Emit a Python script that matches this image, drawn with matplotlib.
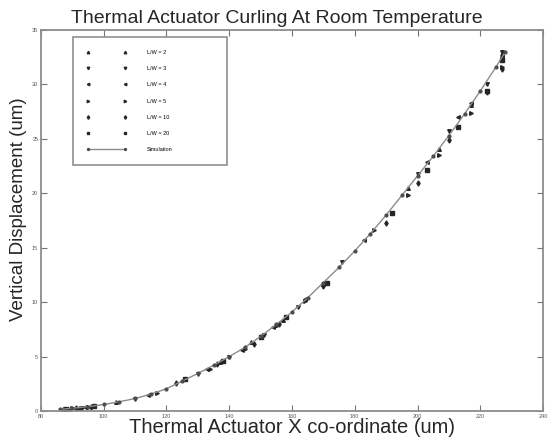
# Thermal actuator curling: measured tip profiles for several L/W ratios
# against the simulated curve (MATLAB-style figure look).

import matplotlib as mpl
import matplotlib.pyplot as plt

mpl.rcParams.update({
    "font.family": ["Liberation Sans", "DejaVu Sans"],
    "xtick.direction": "in",
    "ytick.direction": "in",
    "xtick.top": True,
    "ytick.right": True,
})

# --- Data ---
sim_x = [86, 90, 95, 100, 105, 110, 115, 120, 125, 130, 135, 140, 145, 150,
         155, 160, 165, 170, 175, 180, 185, 190, 195, 200, 205, 210, 215, 220,
         225, 228]
sim_y = [0.15, 0.25, 0.4, 0.6, 0.85, 1.15, 1.55, 2.05, 2.75, 3.45, 4.2, 5.0,
         5.85, 6.85, 7.95, 9.1, 10.4, 11.8, 13.2, 14.7, 16.3, 18.0, 19.8, 21.6,
         23.4, 25.3, 27.3, 29.4, 31.6, 33.0]

lw2_x = [87, 92, 104, 126, 137, 147, 157, 170, 197, 207, 217, 227]
lw2_y = [0.2, 0.3, 0.8, 2.9, 4.5, 6.3, 8.4, 11.7, 20.5, 24.1, 28.1, 32.8]

lw3_x = [88, 93, 110, 130, 140, 151, 162, 176, 200, 210, 222, 227]
lw3_y = [0.2, 0.3, 1.1, 3.4, 5.0, 7.0, 9.6, 13.7, 21.8, 25.7, 30.0, 33.0]

lw4_x = [89, 94, 114, 133, 144, 154, 164, 183, 203, 213, 217, 227]
lw4_y = [0.2, 0.35, 1.5, 3.9, 5.6, 7.7, 10.3, 15.7, 22.9, 27.0, 28.3, 32.5]

lw5_x = [90, 95, 117, 134, 145, 155, 164, 186, 197, 207, 217, 227]
lw5_y = [0.25, 0.4, 1.7, 3.9, 5.7, 7.8, 10.1, 16.6, 19.8, 23.5, 27.4, 31.6]

lw10_x = [91, 96, 123, 136, 148, 156, 170, 190, 200, 210, 222, 227]
lw10_y = [0.25, 0.4, 2.6, 4.3, 6.2, 8.0, 11.5, 17.3, 20.9, 24.9, 29.3, 31.4]

lw20_x = [88, 97, 126, 138, 150, 158, 171, 192, 203, 213, 222, 227]
lw20_y = [0.2, 0.45, 2.9, 4.6, 6.8, 8.6, 11.8, 18.2, 22.1, 26.1, 29.4, 32.2]

series = [
    ("L/W = 2", lw2_x, lw2_y, "^"),
    ("L/W = 3", lw3_x, lw3_y, "v"),
    ("L/W = 4", lw4_x, lw4_y, "<"),
    ("L/W = 5", lw5_x, lw5_y, ">"),
    ("L/W = 10", lw10_x, lw10_y, "d"),
    ("L/W = 20", lw20_x, lw20_y, "s"),
]

# --- Plot ---
fig = plt.figure(figsize=(5.51, 4.43), dpi=100)
ax = fig.add_axes([0.0744, 0.0722, 0.9111, 0.8601])

for label, xs, ys, mk in series:
    ax.plot(xs, ys, linestyle="none", marker=mk, markersize=2.6,
            color="0.15", label=label)

ax.plot(sim_x, sim_y, "-o", color="0.55", linewidth=1.0, markersize=2,
        markerfacecolor="0.3", markeredgecolor="0.3", label="Simulation")

ax.set_xlim(80, 240)
ax.set_ylim(0, 35)
ax.set_xticks(range(80, 241, 20))
ax.set_yticks(range(0, 36, 5))
ax.tick_params(labelsize=4, colors="0.45", length=4, width=0.8,
               labelcolor="0.35")
ax.tick_params(axis="y", pad=2)
ax.tick_params(axis="x", pad=2.5)
for s in ax.spines.values():
    s.set_color("0.55")
    s.set_linewidth(1.3)

ax.set_title("Thermal Actuator Curling At Room Temperature", fontsize=14,
             color="0.15", pad=5, x=0.47)
ax.set_xlabel("Thermal Actuator X co-ordinate (um)", fontsize=14.5,
              color="0.15", labelpad=-1)
ax.set_ylabel("Vertical Displacement (um)", fontsize=13.5, color="0.15")
ax.yaxis.set_label_coords(-0.028, 0.53)

leg = ax.legend(loc="upper left", bbox_to_anchor=(0.064, 0.64, 0.306, 0.342),
                mode="expand", fontsize=4, frameon=True, fancybox=False,
                labelspacing=2.0, handlelength=7.2, handletextpad=3.7,
                borderpad=2.4, borderaxespad=0, numpoints=2,
                markerscale=0.7)
leg.get_frame().set_edgecolor("0.45")
leg.get_frame().set_linewidth(1.2)

fig.savefig("out.png", dpi=100)
plt.close(fig)
